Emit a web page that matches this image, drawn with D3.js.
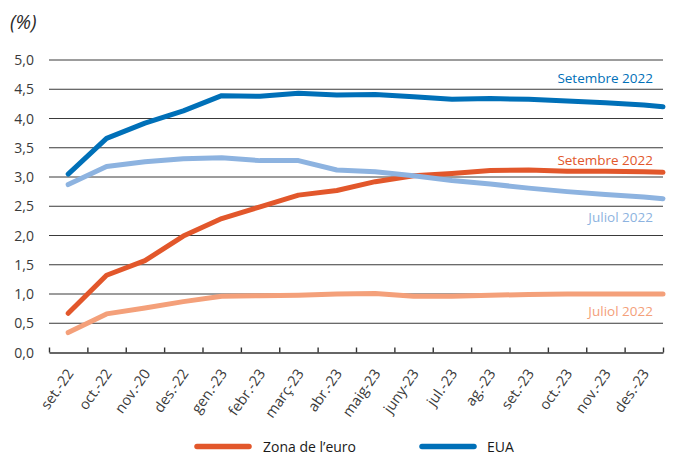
<!DOCTYPE html>
<html>
<head>
<meta charset="utf-8">
<script src="https://cdn.jsdelivr.net/npm/d3@7"></script>
<style>
  html, body { margin: 0; padding: 0; background: #fff; }
  svg { display: block; font-family: "Open Sans", "Noto Sans", sans-serif; }
</style>
</head>
<body>
<svg id="chart" width="673" height="454"></svg>
<script>
// ---- data ----
const months = ["set.-22","oct.-22","nov.-20","des.-22","gen.-23","febr.-23","març-23","abr.-23",
                "maig-23","juny-23","jul.-23","ag.-23","set.-23","oct.-23","nov.-23","des.-23"];
// last value of each series sits at the right edge of the plot (after des.-23)
const euaSet2022   = [3.05,3.66,3.92,4.13,4.39,4.38,4.43,4.40,4.41,4.37,4.33,4.34,4.33,4.30,4.27,4.23,4.20];
const euaJul2022   = [2.87,3.18,3.26,3.31,3.33,3.28,3.28,3.12,3.09,3.02,2.94,2.88,2.81,2.75,2.70,2.66,2.63];
const euroSet2022  = [0.67,1.32,1.57,1.99,2.29,2.49,2.69,2.77,2.92,3.02,3.06,3.11,3.12,3.10,3.10,3.09,3.08];
const euroJul2022  = [0.34,0.66,0.76,0.87,0.96,0.97,0.98,1.00,1.01,0.96,0.96,0.98,0.99,1.00,1.00,1.00,1.00];
const yTicks = [0,0.5,1,1.5,2,2.5,3,3.5,4,4.5,5];
const seriesLabels = ["Setembre 2022","Juliol 2022","Setembre 2022","Juliol 2022"];
const legendLabels = ["Zona de l\u2019euro","EUA"];

const colors = { euaDark: "#0070b8", euaLight: "#8db3e0", euroDark: "#e2572b", euroLight: "#f4a07a" };

// ---- layout ----
const svg = d3.select("#chart");
const plotLeft = 49, plotRight = 663, plotTop = 60, plotBottom = 352.5;

const pointIndex = [...months.keys(), months.length - 0.5];
const x = d3.scaleLinear().domain([-0.5, months.length - 0.5]).range([plotLeft, plotRight]);
const y = d3.scaleLinear().domain([0, 5]).range([plotBottom, plotTop]);
const loc = d3.formatLocale({decimal: ",", thousands: ".", grouping: [3], currency: ["", "€"]});
const fmt = loc.format(".1f");

// unit label
svg.append("text").attr("x", 10).attr("y", 29)
  .attr("font-size", 19.5).attr("font-style", "italic").attr("fill", "#2a2a2a").text("(%)");

// gridlines
svg.append("g").selectAll("line").data(yTicks.filter(d => d > 0)).join("line")
  .attr("x1", plotLeft).attr("x2", plotRight)
  .attr("y1", d => y(d)).attr("y2", d => y(d))
  .attr("stroke", "#3a3a3a").attr("stroke-width", 1);

// y labels
svg.append("g").selectAll("text").data(yTicks).join("text")
  .attr("x", 34).attr("y", d => y(d)).attr("dy", "0.36em")
  .attr("text-anchor", "end").attr("font-size", 14).attr("fill", "#3a3a3a")
  .text(d => fmt(d));

// x axis with ticks at category boundaries pointing up
const boundaries = d3.range(months.length + 1).map(i => i - 0.5);
const xAxis = d3.axisBottom(x).tickValues(boundaries).tickSizeInner(-5).tickSizeOuter(0).tickFormat("");
const gx = svg.append("g").attr("transform", `translate(0,${plotBottom})`).call(xAxis);
gx.select(".domain").attr("stroke", "#333").attr("stroke-width", 1.6);
gx.selectAll(".tick line").attr("stroke", "#333").attr("stroke-width", 1.4);

// x labels
svg.append("g").selectAll("text").data(months).join("text")
  .attr("transform", (d, i) => `translate(${x(i) + 6},${plotBottom + 21}) rotate(-55)`)
  .attr("text-anchor", "end").attr("font-size", 14.5).attr("fill", "#3a3a3a")
  .text(d => d);

// lines
const line = d3.line().x((d, i) => x(pointIndex[i])).y(d => y(d));
const series = [
  { values: euroJul2022, color: colors.euroLight },
  { values: euroSet2022, color: colors.euroDark },
  { values: euaJul2022, color: colors.euaLight },
  { values: euaSet2022, color: colors.euaDark }
];
svg.append("g").selectAll("path").data(series).join("path")
  .attr("d", d => line(d.values))
  .attr("fill", "none").attr("stroke", d => d.color)
  .attr("stroke-width", 5).attr("stroke-linecap", "round").attr("stroke-linejoin", "round");

// series annotations
const annots = [
  { text: seriesLabels[0], v: 4.61, color: colors.euaDark },
  { text: seriesLabels[2], v: 3.20, color: colors.euroDark },
  { text: seriesLabels[1], v: 2.23, color: colors.euaLight },
  { text: seriesLabels[3], v: 0.63, color: colors.euroLight }
];
svg.append("g").selectAll("text").data(annots).join("text")
  .attr("x", 653).attr("y", d => y(d.v))
  .attr("text-anchor", "end").attr("font-size", 13.5).attr("fill", d => d.color)
  .text(d => d.text);

// legend
const legend = [
  { text: legendLabels[0], color: colors.euroDark, x0: 197, x1: 249, tx: 263 },
  { text: legendLabels[1], color: colors.euaDark, x0: 422, x1: 474, tx: 487 }
];
const lg = svg.append("g");
lg.selectAll("line").data(legend).join("line")
  .attr("x1", d => d.x0).attr("x2", d => d.x1).attr("y1", 446.5).attr("y2", 446.5)
  .attr("stroke", d => d.color).attr("stroke-width", 5.5).attr("stroke-linecap", "round");
lg.selectAll("text").data(legend).join("text")
  .attr("x", d => d.tx).attr("y", 451.5).attr("font-size", 14).attr("fill", "#1a1a1a")
  .text(d => d.text);
</script>
</body>
</html>
